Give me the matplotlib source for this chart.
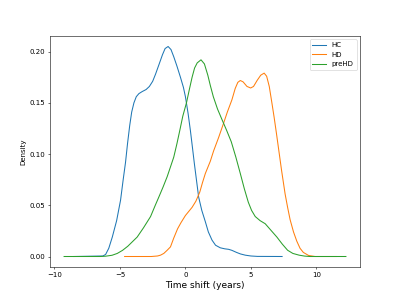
import numpy as np
import matplotlib
matplotlib.use("Agg")
import matplotlib.pyplot as plt

# density curves (time shift in years, density)
hc_x = [-8.5, -6.3, -6.09, -5.85, -5.58, -5.25, -4.95, -4.75, -4.57, -4.42, -4.25,
        -4.1, -3.93, -3.75, -3.55, -3.3, -3.0, -2.75, -2.5, -2.28, -2.0, -1.75, -1.55,
        -1.32, -1.1, -0.89, -0.65, -0.38, -0.15, 0.0, 0.2, 0.38, 0.55, 0.68, 0.85, 1.01,
        1.25, 1.52, 1.75, 2.03, 2.3, 2.66, 3.0, 3.3, 3.55, 3.9, 4.2, 4.57, 5.0, 5.5, 7.38]
hc_y = [0.0, 0.0005, 0.002, 0.008, 0.019, 0.035, 0.055, 0.075, 0.092, 0.110, 0.128,
        0.141, 0.150, 0.156, 0.159, 0.161, 0.163, 0.166, 0.171, 0.178, 0.188, 0.197, 0.203,
        0.205, 0.202, 0.195, 0.186, 0.175, 0.165, 0.156, 0.140, 0.123, 0.105, 0.091, 0.074,
        0.058, 0.045, 0.034, 0.024, 0.016, 0.011, 0.0085, 0.0075, 0.007, 0.006, 0.004,
        0.0025, 0.0013, 0.0005, 0.0001, 0.0]

hd_x = [-4.64, -2.6, -2.13, -1.9, -1.65, -1.4, -1.14, -0.89, -0.6, -0.34, 0.0, 0.51,
        0.8, 1.10, 1.3, 1.52, 1.90, 2.15, 2.53, 2.91, 3.2, 3.55, 3.8, 4.0, 4.19, 4.4,
        4.7, 4.98, 5.2, 5.48, 5.75, 6.01, 6.2, 6.4, 6.6, 6.77, 6.95, 7.08, 7.34, 7.61,
        7.8, 7.99, 8.25, 8.50, 8.75, 9.0, 9.4, 9.9, 11.5]
hd_y = [0.0, 0.0, 0.0005, 0.0013, 0.003, 0.006, 0.0094, 0.018, 0.027, 0.033, 0.040,
        0.048, 0.054, 0.063, 0.072, 0.081, 0.093, 0.103, 0.116, 0.130, 0.141, 0.153,
        0.164, 0.170, 0.1718, 0.1705, 0.166, 0.1645, 0.166, 0.172, 0.177, 0.179, 0.176,
        0.166, 0.150, 0.136, 0.120, 0.108, 0.084, 0.061, 0.048, 0.036, 0.024, 0.015,
        0.008, 0.004, 0.001, 0.0, 0.0]

prehd_x = [-9.26, -6.5, -6.09, -5.6, -5.20, -4.8, -4.4, -4.0, -3.68, -3.2, -2.66, -2.3,
           -2.03, -1.7, -1.39, -1.1, -0.89, -0.65, -0.43, -0.2, 0.08, 0.3, 0.51, 0.7,
           0.9, 1.19, 1.45, 1.71, 1.9, 2.13, 2.45, 2.78, 3.15, 3.50, 3.85, 4.19, 4.5,
           4.8, 5.05, 5.33, 5.7, 6.09, 6.5, 6.98, 7.4, 7.80, 8.2, 8.68, 9.1, 9.51, 12.25]
prehd_y = [0.0, 0.0, 0.0003, 0.0012, 0.003, 0.006, 0.010, 0.015, 0.019, 0.028, 0.039,
           0.050, 0.058, 0.068, 0.078, 0.089, 0.097, 0.110, 0.123, 0.137, 0.150, 0.163,
           0.175, 0.184, 0.189, 0.192, 0.188, 0.177, 0.167, 0.156, 0.144, 0.134, 0.123,
           0.112, 0.097, 0.081, 0.066, 0.053, 0.045, 0.039, 0.035, 0.032, 0.026, 0.019,
           0.012, 0.0061, 0.003, 0.0013, 0.0004, 0.0, 0.0]

fig, ax = plt.subplots(figsize=(8, 6), dpi=50)
ax.plot(hc_x, hc_y, label="HC")
ax.plot(hd_x, hd_y, label="HD")
ax.plot(prehd_x, prehd_y, label="preHD")
ax.set_ylabel("Density")
ax.set_xlabel("Time shift (years)", fontsize=13)
ax.legend(loc="upper right")
fig.savefig("out.png", dpi=50)
